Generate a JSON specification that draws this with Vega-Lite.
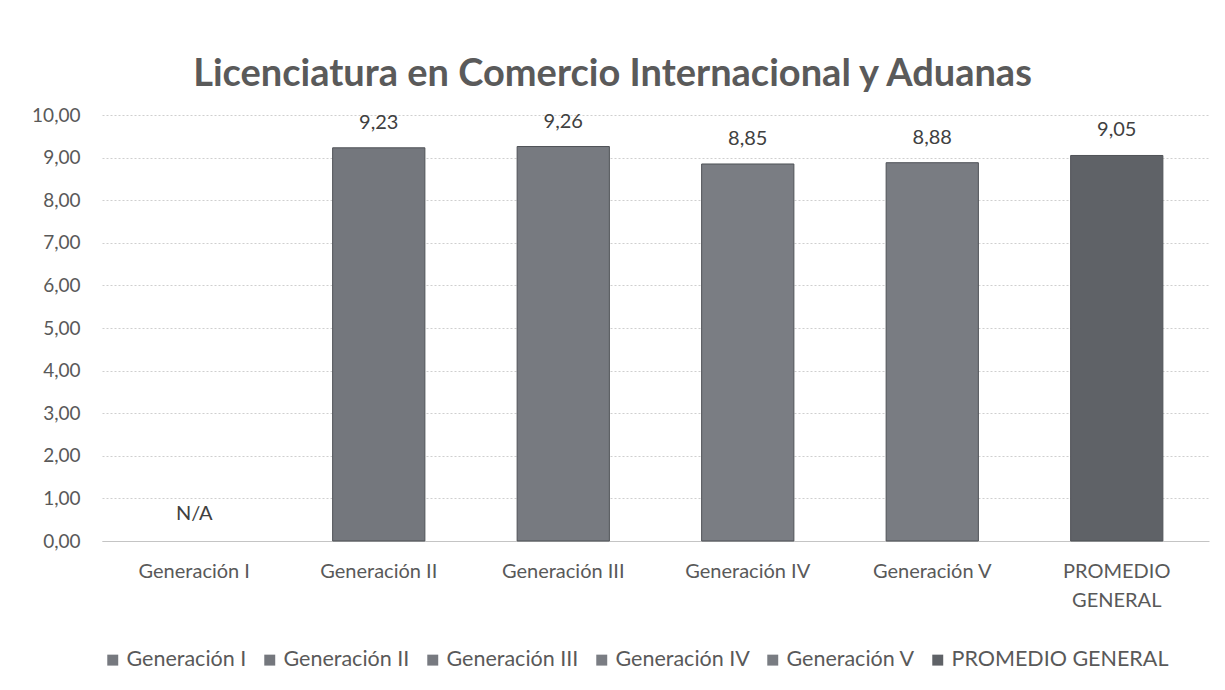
{
  "$schema": "https://vega.github.io/schema/vega-lite/v6.json",
  "width": 1107,
  "height": 426,
  "autosize": {"type": "none"},
  "padding": {"left": 102, "top": 115, "right": 16, "bottom": 149},
  "background": "white",
  "view": {"stroke": null},
  "config": {
    "axisY": {
      "values": [0,1,2,3,4,5,6,7,8,9,10],
      "labelExpr": "replace(format(datum.value, '.2f'), '.', ',')",
      "labelFont": "Lato",
      "labelFontSize": 19,
      "labelColor": "#595959",
      "labelPadding": 22,
      "ticks": false,
      "domain": false,
      "gridColor": "#cfcfcf",
      "gridDash": [2, 2],
      "title": null
    }
  },
  "title": {
    "text": "Licenciatura en Comercio Internacional y Aduanas",
    "font": "Lato",
    "fontSize": 38,
    "fontWeight": "bold",
    "color": "#5a5a5a",
    "offset": 12,
    "anchor": "middle",
    "dx": -43
  },
  "data": {
    "values": [
      {"categoria": "Generación I", "promedio": null, "etiqueta": "N/A"},
      {"categoria": "Generación II", "promedio": 9.23, "etiqueta": "9,23"},
      {"categoria": "Generación III", "promedio": 9.26, "etiqueta": "9,26"},
      {"categoria": "Generación IV", "promedio": 8.85, "etiqueta": "8,85"},
      {"categoria": "Generación V", "promedio": 8.88, "etiqueta": "8,88"},
      {"categoria": "PROMEDIO GENERAL", "promedio": 9.05, "etiqueta": "9,05"}
    ]
  },
  "encoding": {
    "x": {
      "field": "categoria",
      "type": "nominal",
      "sort": null,
      "scale": {
        "domain": ["Generación I", "Generación II", "Generación III", "Generación IV", "Generación V", "PROMEDIO GENERAL"],
        "paddingInner": 0.5,
        "paddingOuter": 0.25
      },
      "axis": {
        "title": null,
        "labelAngle": 0,
        "labelFont": "Lato",
        "labelFontSize": 20,
        "labelColor": "#595959",
        "labelPadding": 20,
        "labelLineHeight": 29,
        "ticks": false,
        "domainColor": "#c4c4c4",
        "grid": false,
        "labelExpr": "datum.value == 'PROMEDIO GENERAL' ? ['PROMEDIO', 'GENERAL'] : datum.value"
      }
    }
  },
  "layer": [
    {
      "mark": {"type": "bar", "stroke": "#4f5257", "strokeWidth": 1},
      "encoding": {
        "y": {
          "field": "promedio",
          "type": "quantitative",
          "scale": {"domain": [0, 10]}
        },
        "color": {
          "field": "categoria",
          "type": "nominal",
          "sort": null,
          "scale": {
            "domain": ["Generación I", "Generación II", "Generación III", "Generación IV", "Generación V", "PROMEDIO GENERAL"],
            "range": ["#76797f", "#74777d", "#777a80", "#7a7d83", "#797c82", "#5f6267"]
          },
          "legend": {
            "title": null,
            "orient": "none",
            "legendX": 0,
            "legendY": 534,
            "direction": "horizontal",
            "columns": 6,
            "symbolType": "square",
            "symbolSize": 120,
            "symbolStrokeWidth": 0,
            "labelFont": "Lato",
            "labelFontSize": 21.5,
            "labelColor": "#595959",
            "labelLimit": 0,
            "columnPadding": 12,
            "labelOffset": 3
          }
        }
      }
    },
    {
      "mark": {"type": "text", "font": "Lato", "fontSize": 20, "color": "#404040", "baseline": "bottom", "dy": -15},
      "encoding": {
        "y": {"field": "promedio", "type": "quantitative"},
        "text": {"field": "etiqueta"}
      },
      "transform": [{"filter": "datum.promedio != null"}]
    },
    {
      "mark": {"type": "text", "font": "Lato", "fontSize": 20, "color": "#404040", "baseline": "bottom", "dy": -17},
      "encoding": {
        "y": {"datum": 0, "type": "quantitative"},
        "text": {"field": "etiqueta"}
      },
      "transform": [{"filter": "datum.promedio == null"}]
    }
  ]
}
